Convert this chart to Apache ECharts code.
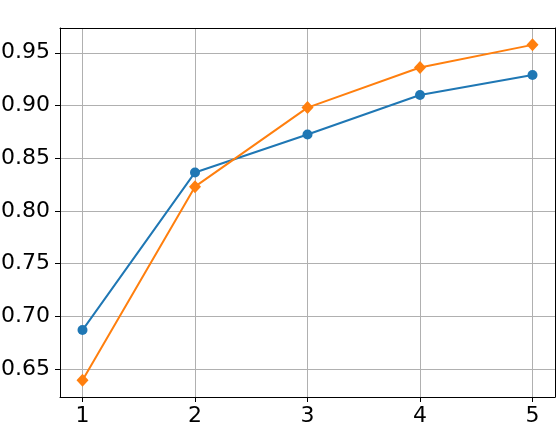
<!DOCTYPE html>
<html>
<head>
<meta charset="utf-8">
<script src="https://cdn.jsdelivr.net/npm/echarts@6/dist/echarts.min.js"></script>
<style>
  html, body { margin: 0; padding: 0; background: #fff; }
  #chart { width: 558px; height: 430px; }
</style>
</head>
<body>
<div id="chart"></div>
<script>
// x positions and the two series
var xValues = [1, 2, 3, 4, 5];
var blueValues = [0.687, 0.8365, 0.8725, 0.910, 0.929];
var orangeValues = [0.6395, 0.823, 0.898, 0.936, 0.9575];
var yTicks = [0.65, 0.70, 0.75, 0.80, 0.85, 0.90, 0.95];

var xMin = 0.8, xMax = 5.2;
var yMin = 0.6235, yMax = 0.9735;

function pairs(xs, ys) {
  return xs.map(function (x, i) { return [x, ys[i]]; });
}

var chart = echarts.init(document.getElementById("chart"));
var labelStyle = {
  color: "#000",
  fontFamily: "DejaVu Sans",
  fontSize: 22
};
var frameLine = { show: true, lineStyle: { color: "#000", width: 1 } };

// the other two sides of the frame
function sideAxis(extra) {
  return Object.assign({
    type: "value",
    axisLine: frameLine,
    axisTick: { show: false },
    axisLabel: { show: false },
    splitLine: { show: false }
  }, extra);
}

chart.setOption({
  animation: false,
  grid: {
    left: 60,
    right: 3,
    top: 28,
    bottom: 33,
    containLabel: false,
    outerBoundsMode: "none"
  },
  xAxis: [
    {
      type: "value",
      min: xMin,
      max: xMax,
      axisLine: frameLine,
      axisTick: {
        show: true,
        length: 5,
        customValues: xValues,
        lineStyle: { color: "#000", width: 1 }
      },
      axisLabel: Object.assign({ customValues: xValues, margin: 8 }, labelStyle),
      splitLine: {
        show: true,
        customValues: xValues,
        lineStyle: { color: "#b0b0b0", width: 1 }
      }
    },
    sideAxis({ position: "top", min: xMin, max: xMax })
  ],
  yAxis: [
    {
      type: "value",
      min: yMin,
      max: yMax,
      axisLine: frameLine,
      axisTick: {
        show: true,
        length: 5,
        customValues: yTicks,
        lineStyle: { color: "#000", width: 1 }
      },
      axisLabel: Object.assign({
        customValues: yTicks,
        margin: 10,
        formatter: function (v) { return v.toFixed(2); }
      }, labelStyle),
      splitLine: {
        show: true,
        customValues: yTicks,
        lineStyle: { color: "#b0b0b0", width: 1 }
      }
    },
    sideAxis({ position: "right", min: yMin, max: yMax })
  ],
  series: [
    {
      type: "line",
      data: pairs(xValues, blueValues),
      color: "#1f77b4",
      symbol: "circle",
      symbolSize: 10,
      lineStyle: { width: 2 },
      itemStyle: { color: "#1f77b4" }
    },
    {
      type: "line",
      data: pairs(xValues, orangeValues),
      color: "#ff7f0e",
      symbol: "diamond",
      symbolSize: [12, 13],
      lineStyle: { width: 2 },
      itemStyle: { color: "#ff7f0e" }
    }
  ]
});
</script>
</body>
</html>
